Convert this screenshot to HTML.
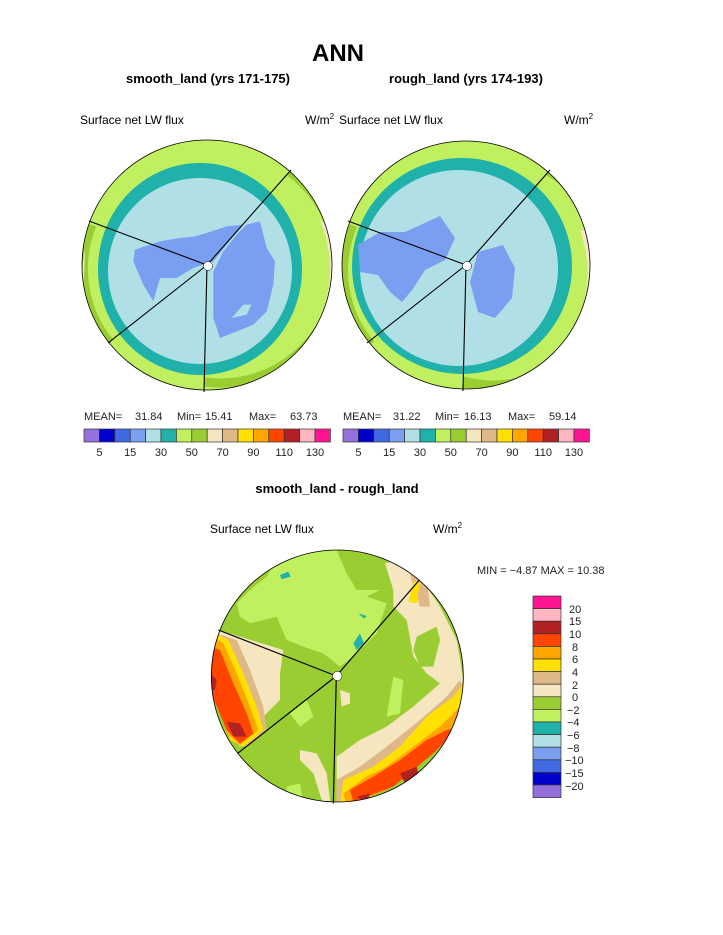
<!DOCTYPE html>
<html><head><meta charset="utf-8"><style>
body{margin:0;background:#fff}
svg{display:block}
text{font-family:"Liberation Sans",sans-serif}
</style></head><body>
<svg width="723" height="935" viewBox="0 0 723 935">
<defs>
<clipPath id="cL"><circle cx="207" cy="265" r="125"/></clipPath>
<clipPath id="cR"><circle cx="466" cy="265" r="124"/></clipPath>
<clipPath id="cB"><circle cx="412" cy="408" r="378"/></clipPath>
</defs>
<rect width="723" height="935" fill="#fff"/>
<text x="338" y="61" font-size="24" font-weight="bold" text-anchor="middle">ANN</text>
<text x="208" y="83" font-size="13" font-weight="bold" text-anchor="middle">smooth_land (yrs 171-175)</text>
<text x="466" y="83" font-size="13" font-weight="bold" text-anchor="middle">rough_land (yrs 174-193)</text>
<text x="80" y="124" font-size="12">Surface net LW flux</text>
<text x="305" y="124" font-size="12">W/m<tspan font-size="8" dy="-5">2</tspan></text>
<text x="339" y="124" font-size="12">Surface net LW flux</text>
<text x="564" y="124" font-size="12">W/m<tspan font-size="8" dy="-5">2</tspan></text>

<!-- LEFT MAP -->
<g clip-path="url(#cL)">
<circle cx="207" cy="265" r="125" fill="#C0F060"/>
<g fill="none" stroke="#9ACD32" stroke-width="9">
<path d="M290,172 A117,117 0 0 1 205,382"/>
<path d="M110,343 A117,117 0 0 1 92,225"/>
</g>
<path d="M320,220 A125,125 0 0 1 300,350 L330,330 L335,230 Z" fill="#F5E6C0"/>
<path d="M85,250 A125,125 0 0 0 95,330 L82,330 Z" fill="#F5E6C0"/>
<ellipse cx="200" cy="269" rx="102" ry="106" fill="#20B2AA"/>
<ellipse cx="200" cy="271" rx="92" ry="93" fill="#B0E0E6"/>
<g transform="translate(80,138) scale(0.33333)" fill="#7A9EF0">
<polygon points="165,335 240,310 300,300 345,295 380,285 440,265 490,260 440,320 400,370 340,390 290,420 240,420 220,490 190,440 160,370"/>
<polygon points="500,260 540,250 560,330 585,370 580,440 560,520 520,560 470,580 420,600 400,540 400,400 430,340 470,290"/>
<polygon points="455,540 490,500 515,500 500,530" fill="#B0E0E6"/>
</g>
</g>
<circle cx="207" cy="265" r="125" fill="none" stroke="#000" stroke-width="0.8"/>
<g stroke="#000" stroke-width="1.1">
<line x1="207" y1="265" x2="89" y2="221"/>
<line x1="207" y1="265" x2="291" y2="170"/>
<line x1="207" y1="265" x2="204" y2="392"/>
<line x1="207" y1="265" x2="108" y2="343"/>
</g>
<circle cx="208" cy="266" r="4.5" fill="#fff" stroke="#000" stroke-width="0.5"/>

<!-- RIGHT MAP -->
<g clip-path="url(#cR)">
<circle cx="466" cy="265" r="124" fill="#C0F060"/>
<g fill="none" stroke="#9ACD32" stroke-width="11">
<path d="M548,170 A115,115 0 0 1 463,382"/>
<path d="M370,345 A115,115 0 0 1 352,225"/>
</g>
<path d="M580,230 A124,124 0 0 1 560,350 L590,340 L592,230 Z" fill="#F5E6C0"/>
<ellipse cx="462" cy="266" rx="110" ry="108" fill="#20B2AA"/>
<ellipse cx="459" cy="268" rx="99" ry="98" fill="#B0E0E6"/>
<g fill="#7A9EF0">
<polygon points="358,245 380,232 405,232 440,216 455,238 445,260 425,270 412,290 402,302 390,292 378,275 360,272"/>
<polygon points="478,252 503,245 515,268 512,298 495,318 478,312 470,282"/>
</g>
</g>
<circle cx="466" cy="265" r="124" fill="none" stroke="#000" stroke-width="0.8"/>
<g stroke="#000" stroke-width="1.1">
<line x1="466" y1="265" x2="348" y2="221"/>
<line x1="466" y1="265" x2="550" y2="170"/>
<line x1="466" y1="265" x2="463" y2="391"/>
<line x1="466" y1="265" x2="367" y2="343"/>
</g>
<circle cx="467" cy="266" r="4.5" fill="#fff" stroke="#000" stroke-width="0.5"/>

<!-- stats & colorbars -->
<g font-size="11" fill="#222">
<text x="84" y="420">MEAN=</text><text x="135" y="420">31.84</text><text x="177" y="420">Min=</text><text x="205" y="420">15.41</text><text x="249" y="420">Max=</text><text x="290" y="420">63.73</text>
<text x="343" y="420">MEAN=</text><text x="393" y="420">31.22</text><text x="435" y="420">Min=</text><text x="464" y="420">16.13</text><text x="508" y="420">Max=</text><text x="549" y="420">59.14</text>
</g>
<g id="cb" stroke="#333" stroke-width="0.7">
<rect x="84" y="429" width="15.4" height="13" fill="#9370DB"/>
<rect x="99.4" y="429" width="15.4" height="13" fill="#0000CD"/>
<rect x="114.8" y="429" width="15.4" height="13" fill="#4169E1"/>
<rect x="130.2" y="429" width="15.4" height="13" fill="#7A9EF0"/>
<rect x="145.6" y="429" width="15.4" height="13" fill="#B0E0E6"/>
<rect x="161" y="429" width="15.4" height="13" fill="#20B2AA"/>
<rect x="176.4" y="429" width="15.4" height="13" fill="#C0F060"/>
<rect x="191.8" y="429" width="15.4" height="13" fill="#9ACD32"/>
<rect x="207.2" y="429" width="15.4" height="13" fill="#F5E6C0"/>
<rect x="222.6" y="429" width="15.4" height="13" fill="#DEB887"/>
<rect x="238" y="429" width="15.4" height="13" fill="#FFE000"/>
<rect x="253.4" y="429" width="15.4" height="13" fill="#FFA500"/>
<rect x="268.8" y="429" width="15.4" height="13" fill="#FF4500"/>
<rect x="284.2" y="429" width="15.4" height="13" fill="#B22222"/>
<rect x="299.6" y="429" width="15.4" height="13" fill="#FFB6C1"/>
<rect x="315" y="429" width="15.4" height="13" fill="#FF1493"/>
</g>
<use href="#cb" x="259"/>
<g font-size="11" fill="#222" text-anchor="middle">
<text x="99.4" y="456">5</text><text x="130.2" y="456">15</text><text x="161" y="456">30</text><text x="191.8" y="456">50</text><text x="222.6" y="456">70</text><text x="253.4" y="456">90</text><text x="284.2" y="456">110</text><text x="315" y="456">130</text>
<text x="358.4" y="456">5</text><text x="389.2" y="456">15</text><text x="420" y="456">30</text><text x="450.8" y="456">50</text><text x="481.6" y="456">70</text><text x="512.4" y="456">90</text><text x="543.2" y="456">110</text><text x="574" y="456">130</text>
</g>

<text x="337" y="493" font-size="13" font-weight="bold" text-anchor="middle">smooth_land - rough_land</text>
<text x="210" y="533" font-size="12">Surface net LW flux</text>
<text x="433" y="533" font-size="12">W/m<tspan font-size="8" dy="-5">2</tspan></text>
<text x="477" y="574" font-size="11" fill="#222">MIN =  −4.87 MAX =  10.38</text>

<!-- BOTTOM MAP -->
<g transform="translate(200,540) scale(0.33333)">
<g clip-path="url(#cB)">
<circle cx="412" cy="408" r="378" fill="#9ACD32"/>
<polygon fill="#C0F060" points="110,190 150,150 200,110 230,60 300,40 410,30 440,100 470,150 540,150 500,170 560,190 530,280 470,340 420,380 370,340 310,320 260,300 230,230 150,250 120,230"/>
<polygon fill="#C0F060" points="580,410 610,420 600,520 560,530"/>
<polygon fill="#C0F060" points="270,520 320,480 340,530 300,560"/>
<polygon fill="#C0F060" points="260,740 300,730 310,790 260,790"/>
<polygon fill="#F5E6C0" points="555,70 600,60 660,110 720,200 770,300 790,420 760,520 650,640 520,760 450,795 410,795 410,650 480,600 560,560 640,500 720,430 680,400 640,350 620,240 580,200 580,150"/>
<polygon fill="#9ACD32" points="650,290 710,260 720,300 700,380 660,380 640,330"/>
<polygon fill="#DEB887" points="620,60 680,110 690,200 660,200 640,140"/>
<polygon fill="#DEB887" points="780,420 795,460 760,540 660,650 540,750 440,795 410,795 410,720 480,680 560,620 660,540 740,470"/>
<polygon fill="#FFE000" points="790,430 775,540 680,640 560,740 440,795 420,795 430,720 520,680 600,620 680,530 760,470"/>
<polygon fill="#FFE000" points="640,125 660,125 650,190 625,185"/>
<polygon fill="#FFA500" points="790,490 765,560 680,650 560,750 440,795 430,760 500,710 560,680 640,620 720,560 770,510"/>
<polygon fill="#FF4500" points="780,560 700,640 580,740 460,785 450,750 520,710 600,660 680,600 740,570"/>
<polygon fill="#B22222" points="600,700 650,680 660,720 620,740"/>
<polygon fill="#B22222" points="470,770 510,760 500,790"/>
<polygon fill="#F5E6C0" points="55,270 250,330 240,400 240,480 180,540 120,620 80,560 50,400"/>
<polygon fill="#DEB887" points="50,280 110,300 150,390 190,500 200,570 140,620 100,600 45,420"/>
<polygon fill="#FFE000" points="45,280 85,300 130,400 170,500 190,570 130,620 90,600 40,440"/>
<polygon fill="#FFA500" points="40,290 70,310 110,400 150,500 175,570 120,615 80,580 38,440"/>
<polygon fill="#FF4500" points="30,320 60,330 100,430 140,520 160,580 120,610 80,570 30,450"/>
<polygon fill="#B22222" points="80,545 120,550 140,590 100,590"/>
<polygon fill="#B22222" points="30,400 50,420 45,450 30,450"/>
<polygon fill="#F5E6C0" points="300,630 350,640 380,700 392,795 370,795 340,700 300,660"/>
<polygon fill="#F5E6C0" points="420,450 450,460 450,490 425,500"/>
<g fill="#20B2AA">
<polygon points="240,105 265,95 272,110 245,118"/>
<polygon points="475,220 500,228 492,236"/>
<polygon points="460,310 480,280 492,310 470,330"/>
</g>
</g>
<circle cx="412" cy="408" r="378" fill="none" stroke="#000" stroke-width="2.5"/>
<g stroke="#000" stroke-width="3.5">
<line x1="409" y1="408" x2="55" y2="270"/>
<line x1="409" y1="408" x2="658" y2="120"/>
<line x1="409" y1="408" x2="400" y2="790"/>
<line x1="409" y1="408" x2="113" y2="640"/>
</g>
<circle cx="412" cy="408" r="14" fill="#fff" stroke="#000" stroke-width="1.5"/>
</g>

<!-- vertical colorbar -->
<g stroke="#333" stroke-width="0.7">
<rect x="533" y="596" width="28" height="12.6" fill="#FF1493"/>
<rect x="533" y="608.6" width="28" height="12.6" fill="#FFB6C1"/>
<rect x="533" y="621.2" width="28" height="12.6" fill="#B22222"/>
<rect x="533" y="633.8" width="28" height="12.6" fill="#FF4500"/>
<rect x="533" y="646.4" width="28" height="12.6" fill="#FFA500"/>
<rect x="533" y="659" width="28" height="12.6" fill="#FFE000"/>
<rect x="533" y="671.6" width="28" height="12.6" fill="#DEB887"/>
<rect x="533" y="684.2" width="28" height="12.6" fill="#F5E6C0"/>
<rect x="533" y="696.8" width="28" height="12.6" fill="#9ACD32"/>
<rect x="533" y="709.4" width="28" height="12.6" fill="#C0F060"/>
<rect x="533" y="722" width="28" height="12.6" fill="#20B2AA"/>
<rect x="533" y="734.6" width="28" height="12.6" fill="#B0E0E6"/>
<rect x="533" y="747.2" width="28" height="12.6" fill="#7A9EF0"/>
<rect x="533" y="759.8" width="28" height="12.6" fill="#4169E1"/>
<rect x="533" y="772.4" width="28" height="12.6" fill="#0000CD"/>
<rect x="533" y="785" width="28" height="12.6" fill="#9370DB"/>
</g>
<g font-size="11" fill="#222">
<text x="569" y="613">20</text><text x="569" y="625">15</text><text x="569" y="638">10</text><text x="572" y="651">8</text><text x="572" y="663">6</text><text x="572" y="676">4</text><text x="572" y="689">2</text><text x="572" y="701">0</text>
<text x="567" y="714">−2</text><text x="567" y="726">−4</text><text x="567" y="739">−6</text><text x="567" y="752">−8</text><text x="565" y="764">−10</text><text x="565" y="777">−15</text><text x="565" y="790">−20</text>
</g>
</svg>
</body></html>
